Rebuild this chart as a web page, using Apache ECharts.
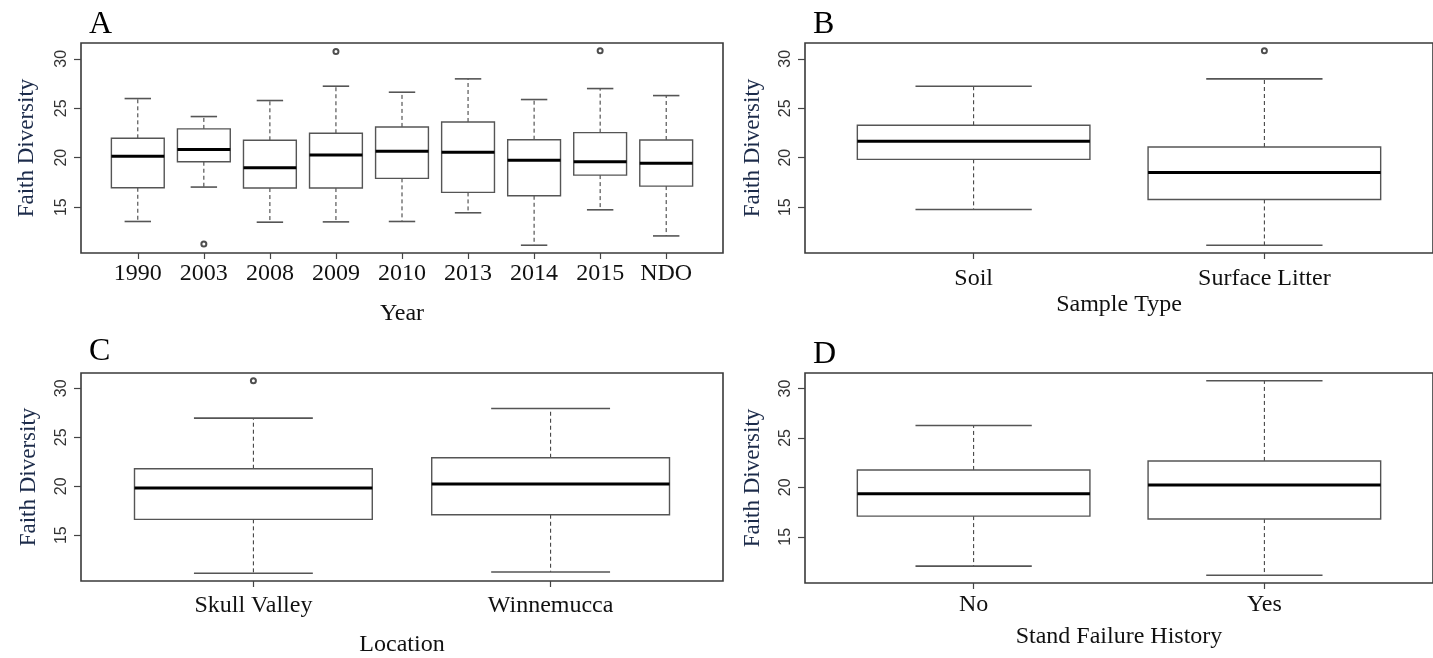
<!DOCTYPE html>
<html>
<head>
<meta charset="utf-8">
<script src="https://cdn.jsdelivr.net/npm/echarts@6/dist/echarts.min.js"></script>
<style>
html,body{margin:0;padding:0;background:#fff;}
#chart{width:1433px;height:658px;}
</style>
</head>
<body>
<div id="chart"></div>
<script>
// ---------- DATA ----------
// each stats row: [lower whisker, Q1, median, Q3, upper whisker]
const yearCategories = ['1990','2003','2008','2009','2010','2013','2014','2015','NDO'];
const yearStats = [
  [13.55, 16.96, 20.14, 21.96, 25.98],
  [17.03, 19.59, 20.84, 22.91, 24.16],
  [13.48, 16.93, 18.99, 21.76, 25.78],
  [13.51, 16.93, 20.27, 22.47, 27.23],
  [13.55, 17.91, 20.64, 23.11, 26.62],
  [14.43, 16.49, 20.54, 23.61, 27.97],
  [11.15, 16.15, 19.73, 21.82, 25.88],
  [14.73, 18.24, 19.59, 22.53, 26.99],
  [12.09, 17.13, 19.43, 21.79, 26.28]
];
const yearOutliers = [['2003', 11.28], ['2009', 30.74], ['2015', 30.81]];

const sampleCategories = ['Soil', 'Surface Litter'];
const sampleStats = [
  [14.76, 19.83, 21.66, 23.28, 27.23],
  [11.15, 15.78, 18.51, 21.08, 27.97]
];
const sampleOutliers = [['Surface Litter', 30.81]];

const locationCategories = ['Skull Valley', 'Winnemucca'];
const locationStats = [
  [11.11, 16.62, 19.83, 21.79, 26.96],
  [11.25, 17.09, 20.24, 22.91, 27.94]
];
const locationOutliers = [['Skull Valley', 30.78]];

const standCategories = ['No', 'Yes'];
const standStats = [
  [12.03, 17.09, 19.36, 21.76, 26.25],
  [11.11, 16.79, 20.24, 22.67, 30.78]
];
const standOutliers = [];

const yTickValues = [15, 20, 25, 30];
const yAxisTitle = 'Faith Diversity';

// ---------- LAYOUT ----------
const panels = [
  {letter:'A', cats:yearCategories, stats:yearStats, outliers:yearOutliers, xTitle:'Year',
   left:81, top:43, width:642, height:210, labelMargin:9, nameGap:49, yNameGap:43, letterTop:4},
  {letter:'B', cats:sampleCategories, stats:sampleStats, outliers:sampleOutliers, xTitle:'Sample Type',
   left:805, top:43, width:645, height:210, labelMargin:14, nameGap:40, yNameGap:41, letterTop:4},
  {letter:'C', cats:locationCategories, stats:locationStats, outliers:locationOutliers, xTitle:'Location',
   left:81, top:373, width:642, height:210, labelMargin:13, nameGap:52, yNameGap:41, letterTop:331},
  {letter:'D', cats:standCategories, stats:standStats, outliers:standOutliers, xTitle:'Stand Failure History',
   left:805, top:373, width:645, height:210, labelMargin:10, nameGap:42, yNameGap:41, letterTop:334}
];

const SERIF = '"Liberation Serif", "Times New Roman", serif';
const SANS = '"Liberation Sans", Arial, sans-serif';

function renderBox(params, api) {
  const x = api.value(0);
  const lo = api.value(1), q1 = api.value(2), med = api.value(3), q3 = api.value(4), hi = api.value(5);
  const boxW = api.size([0.8, 0], [x, med])[0];
  const half = boxW / 2;
  const cap = boxW / 4;
  const pLo = api.coord([x, lo]);
  const pQ1 = api.coord([x, q1]);
  const pMed = api.coord([x, med]);
  const pQ3 = api.coord([x, q3]);
  const pHi = api.coord([x, hi]);
  const cx = pMed[0];
  const dash = {stroke:'#333', lineWidth:1, lineDash:[4,3]};
  const capStyle = {stroke:'#555', lineWidth:1.6};
  return {
    type:'group',
    children:[
      {type:'line', shape:{x1:cx, y1:pQ3[1], x2:cx, y2:pHi[1]}, style:dash},
      {type:'line', shape:{x1:cx, y1:pQ1[1], x2:cx, y2:pLo[1]}, style:dash},
      {type:'line', shape:{x1:cx-cap, y1:pHi[1], x2:cx+cap, y2:pHi[1]}, style:capStyle},
      {type:'line', shape:{x1:cx-cap, y1:pLo[1], x2:cx+cap, y2:pLo[1]}, style:capStyle},
      {type:'rect', shape:{x:cx-half, y:pQ3[1], width:boxW, height:pQ1[1]-pQ3[1]},
       style:{fill:'#fff', stroke:'#555', lineWidth:1.4}},
      {type:'line', shape:{x1:cx-half, y1:pMed[1], x2:cx+half, y2:pMed[1]},
       style:{stroke:'#000', lineWidth:3}}
    ]
  };
}

const option = {
  animation:false,
  backgroundColor:'#fff',
  title:[], grid:[], xAxis:[], yAxis:[], series:[]
};

panels.forEach(function(p, i) {
  const n = p.cats.length;
  // R-style ranges: xlim = [0.5, n+0.5] extended 4%, ylim = data range extended 4%
  const xMin = 0.5 - 0.04 * n, xMax = n + 0.5 + 0.04 * n;
  let all = [];
  p.stats.forEach(function(s){ all = all.concat(s); });
  p.outliers.forEach(function(o){ all.push(o[1]); });
  const dMin = Math.min.apply(null, all), dMax = Math.max.apply(null, all);
  const ext = (dMax - dMin) * 0.04;
  const positions = p.cats.map(function(c, k){ return k + 1; });

  option.title.push({
    text:p.letter, left:p.left + 3, top:p.letterTop,
    textStyle:{fontFamily:SERIF, fontSize:32, fontWeight:'normal', color:'#000'}
  });
  option.grid.push({
    left:p.left, top:p.top, width:p.width, height:p.height,
    show:true, borderColor:'#3a3a3a', borderWidth:1.6, backgroundColor:'transparent'
  });
  option.xAxis.push({
    type:'value', gridIndex:i, min:xMin, max:xMax,
    splitLine:{show:false},
    axisLine:{show:false},
    axisTick:{show:true, length:6, customValues:positions, lineStyle:{color:'#444', width:1.2}},
    axisLabel:{show:true, customValues:positions, margin:p.labelMargin,
      fontFamily:SERIF, fontSize:24, color:'#111',
      formatter:function(v){ return p.cats[Math.round(v) - 1]; }},
    name:p.xTitle, nameLocation:'middle', nameGap:p.nameGap,
    nameTextStyle:{fontFamily:SERIF, fontSize:24, color:'#111'}
  });
  option.yAxis.push({
    type:'value', gridIndex:i, min:dMin - ext, max:dMax + ext,
    splitLine:{show:false},
    axisLine:{show:false},
    axisTick:{show:true, length:7, customValues:yTickValues, lineStyle:{color:'#444', width:1.2}},
    axisLabel:{show:true, customValues:yTickValues, rotate:90, margin:11,
      fontFamily:SANS, fontSize:16, color:'#333'},
    name:yAxisTitle, nameLocation:'middle', nameGap:p.yNameGap,
    nameTextStyle:{fontFamily:SERIF, fontSize:23, color:'#1c2b4a'}
  });
  option.series.push({
    type:'custom', xAxisIndex:i, yAxisIndex:i,
    renderItem:renderBox,
    encode:{x:0, y:[1,2,3,4,5]},
    data:p.stats.map(function(s, k){ return [k + 1].concat(s); }),
    z:2
  });
  option.series.push({
    type:'scatter', xAxisIndex:i, yAxisIndex:i,
    symbol:'emptyCircle', symbolSize:5,
    itemStyle:{color:'#222', borderColor:'#222', borderWidth:1.2},
    data:p.outliers.map(function(o){ return [p.cats.indexOf(o[0]) + 1, o[1]]; }),
    z:3
  });
});

const chart = echarts.init(document.getElementById('chart'), null, {renderer:'canvas'});
chart.setOption(option);
</script>
</body>
</html>
